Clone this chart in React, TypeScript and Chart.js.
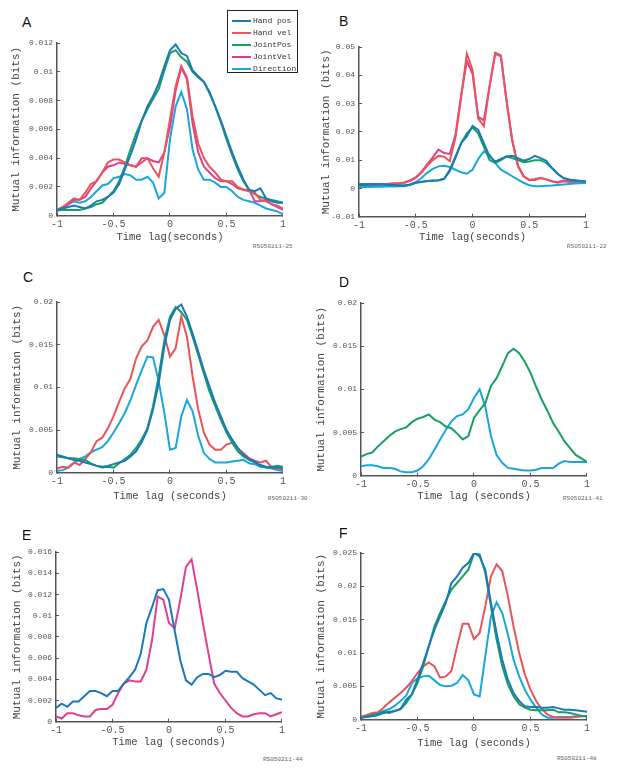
import React, { useEffect, useRef } from "react";
import { Chart, registerables } from "chart.js";

Chart.register(...registerables);

// ---------- DATA ----------
const timeLags = [
  -1, -0.95, -0.9, -0.85, -0.8, -0.75, -0.7, -0.65, -0.6, -0.55,
  -0.5, -0.45, -0.4, -0.35, -0.3, -0.25, -0.2, -0.15, -0.1, -0.05,
  0, 0.05, 0.1, 0.15, 0.2, 0.25, 0.3, 0.35, 0.4, 0.45,
  0.5, 0.55, 0.6, 0.65, 0.7, 0.75, 0.8, 0.85, 0.9, 0.95, 1,
];

const seriesNames = ["Hand pos", "Hand vel", "JointPos", "JointVel", "Direction"];
const seriesColors = ["#1b78bd", "#e9545c", "#17a05e", "#de3f8f", "#19a6dd"];

const xTickValues = [-1, -0.5, 0, 0.5, 1];

// Panel A
const aHandPos = [
  0.0004, 0.0005, 0.0006, 0.0007, 0.0006, 0.0005, 0.0007, 0.0010, 0.0011, 0.0013,
  0.0016, 0.0022, 0.0032, 0.0042, 0.0053, 0.0066, 0.0076, 0.0083, 0.0092, 0.0104,
  0.0115, 0.0119, 0.0113, 0.0111, 0.0101, 0.0097, 0.0093, 0.0086, 0.0076, 0.0066,
  0.0055, 0.0044, 0.0034, 0.0025, 0.0018, 0.0017, 0.0019, 0.0012, 0.0010, 0.0009, 0.0009,
];
const aHandVel = [
  0.0004, 0.0006, 0.0009, 0.0012, 0.0011, 0.0016, 0.0022, 0.0024, 0.0030, 0.0037,
  0.0039, 0.0039, 0.0037, 0.0035, 0.0034, 0.0037, 0.0040, 0.0033, 0.0027, 0.0044,
  0.0067, 0.0090, 0.0104, 0.0096, 0.0069, 0.0050, 0.0040, 0.0034, 0.0030, 0.0025,
  0.0024, 0.0024, 0.0020, 0.0018, 0.0017, 0.0016, 0.0011, 0.0010, 0.0008, 0.0007, 0.0005,
];
const aJointPos = [
  0.0004, 0.0004, 0.0004, 0.0004, 0.0004, 0.0005, 0.0006, 0.0008, 0.0009, 0.0013,
  0.0017, 0.0024, 0.0034, 0.0046, 0.0057, 0.0066, 0.0074, 0.0081, 0.0088, 0.0101,
  0.0113, 0.0115, 0.0110, 0.0107, 0.0100, 0.0096, 0.0093, 0.0085, 0.0076, 0.0065,
  0.0053, 0.0042, 0.0032, 0.0024, 0.0018, 0.0015, 0.0013, 0.0012, 0.0011, 0.0010, 0.0009,
];
const aJointVel = [
  0.0004, 0.0006, 0.0008, 0.0011, 0.0011, 0.0013, 0.0019, 0.0024, 0.0030, 0.0034,
  0.0035, 0.0037, 0.0036, 0.0035, 0.0034, 0.0040, 0.0040, 0.0038, 0.0037, 0.0044,
  0.0062, 0.0087, 0.0103, 0.0095, 0.0064, 0.0044, 0.0034, 0.0030, 0.0026, 0.0024,
  0.0024, 0.0022, 0.0019, 0.0018, 0.0018, 0.0010, 0.0010, 0.0011, 0.0008, 0.0006, 0.0004,
];
const aDirection = [
  0.0003, 0.0005, 0.0008, 0.0010, 0.0009, 0.0010, 0.0013, 0.0017, 0.0021, 0.0022,
  0.0026, 0.0027, 0.0029, 0.0028, 0.0025, 0.0025, 0.0027, 0.0023, 0.0012, 0.0016,
  0.0053, 0.0076, 0.0086, 0.0074, 0.0046, 0.0032, 0.0025, 0.0025, 0.0023, 0.0020,
  0.0020, 0.0017, 0.0013, 0.0011, 0.0010, 0.0009, 0.0007, 0.0005, 0.0004, 0.0003, 0.0001,
];

// Panel B
const bHandVel = [
  0.0010, 0.0011, 0.0012, 0.0013, 0.0015, 0.0016, 0.0017, 0.0018, 0.0020, 0.0027,
  0.0037, 0.0055, 0.0080, 0.0100, 0.0115, 0.0112, 0.0096, 0.0180, 0.0320, 0.0476,
  0.0420, 0.0248, 0.0220, 0.0360, 0.0480, 0.0470, 0.0310, 0.0170, 0.0080, 0.0043,
  0.0030, 0.0030, 0.0037, 0.0032, 0.0025, 0.0020, 0.0025, 0.0023, 0.0022, 0.0022, 0.0021,
];
const bJointVel = [
  0.0010, 0.0011, 0.0012, 0.0013, 0.0015, 0.0016, 0.0017, 0.0018, 0.0021, 0.0028,
  0.0039, 0.0058, 0.0085, 0.0110, 0.0137, 0.0125, 0.0122, 0.0190, 0.0330, 0.0450,
  0.0406, 0.0254, 0.0240, 0.0360, 0.0476, 0.0467, 0.0310, 0.0170, 0.0080, 0.0043,
  0.0030, 0.0033, 0.0037, 0.0032, 0.0025, 0.0022, 0.0028, 0.0025, 0.0023, 0.0022, 0.0022,
];
const bHandPos = [
  0.0012, 0.0013, 0.0014, 0.0014, 0.0014, 0.0013, 0.0012, 0.0010, 0.0010, 0.0013,
  0.0020, 0.0024, 0.0026, 0.0028, 0.0029, 0.0034, 0.0062, 0.0108, 0.0160, 0.0184,
  0.0221, 0.0207, 0.0160, 0.0113, 0.0095, 0.0104, 0.0113, 0.0115, 0.0107, 0.0098,
  0.0104, 0.0115, 0.0107, 0.0098, 0.0072, 0.0052, 0.0037, 0.0031, 0.0028, 0.0026, 0.0024,
];
const bJointPos = [
  0.0016, 0.0016, 0.0016, 0.0016, 0.0015, 0.0013, 0.0012, 0.0011, 0.0010, 0.0014,
  0.0020, 0.0023, 0.0025, 0.0027, 0.0028, 0.0034, 0.0066, 0.0113, 0.0160, 0.0195,
  0.0216, 0.0195, 0.0148, 0.0100, 0.0090, 0.0100, 0.0113, 0.0107, 0.0100, 0.0093,
  0.0095, 0.0100, 0.0100, 0.0090, 0.0072, 0.0052, 0.0037, 0.0032, 0.0029, 0.0026, 0.0024,
];
const bDirection = [
  0.0004, 0.0005, 0.0005, 0.0006, 0.0006, 0.0007, 0.0007, 0.0008, 0.0008, 0.0013,
  0.0022, 0.0037, 0.0055, 0.0069, 0.0078, 0.0080, 0.0076, 0.0066, 0.0057, 0.0052,
  0.0066, 0.0104, 0.0131, 0.0119, 0.0090, 0.0066, 0.0055, 0.0043, 0.0031, 0.0020,
  0.0011, 0.0008, 0.0008, 0.0009, 0.0010, 0.0012, 0.0014, 0.0016, 0.0017, 0.0018, 0.0020,
];

// Panel C
const cHandVel = [
  0.0005, 0.0007, 0.0006, 0.0012, 0.0009, 0.0016, 0.0024, 0.0037, 0.0041, 0.0052,
  0.0066, 0.0083, 0.0099, 0.0110, 0.0134, 0.0148, 0.0155, 0.0171, 0.0179, 0.0161,
  0.0136, 0.0146, 0.0183, 0.0159, 0.0113, 0.0074, 0.0047, 0.0033, 0.0027, 0.0027,
  0.0033, 0.0035, 0.0028, 0.0023, 0.0017, 0.0014, 0.0012, 0.0014, 0.0006, 0.0005, 0.0004,
];
const cHandPos = [
  0.0021, 0.0019, 0.0017, 0.0015, 0.0014, 0.0012, 0.0010, 0.0008, 0.0007, 0.0008,
  0.0010, 0.0012, 0.0014, 0.0019, 0.0025, 0.0036, 0.0050, 0.0074, 0.0105, 0.0148,
  0.0179, 0.0192, 0.0197, 0.0183, 0.0163, 0.0142, 0.0120, 0.0101, 0.0082, 0.0066,
  0.0050, 0.0039, 0.0029, 0.0021, 0.0016, 0.0013, 0.0009, 0.0007, 0.0006, 0.0006, 0.0005,
];
const cJointPos = [
  0.0019, 0.0018, 0.0017, 0.0017, 0.0016, 0.0015, 0.0011, 0.0008, 0.0006, 0.0007,
  0.0006, 0.0011, 0.0016, 0.0021, 0.0029, 0.0039, 0.0052, 0.0078, 0.0113, 0.0155,
  0.0183, 0.0194, 0.0188, 0.0179, 0.0159, 0.0138, 0.0116, 0.0095, 0.0078, 0.0062,
  0.0047, 0.0035, 0.0025, 0.0019, 0.0015, 0.0012, 0.0008, 0.0006, 0.0007, 0.0008, 0.0007,
];
const cDirection = [
  0.0002, 0.0003, 0.0006, 0.0011, 0.0016, 0.0019, 0.0024, 0.0027, 0.0030, 0.0037,
  0.0047, 0.0058, 0.0070, 0.0085, 0.0103, 0.0120, 0.0136, 0.0135, 0.0107, 0.0070,
  0.0027, 0.0029, 0.0066, 0.0085, 0.0072, 0.0043, 0.0023, 0.0016, 0.0012, 0.0012,
  0.0012, 0.0013, 0.0014, 0.0015, 0.0011, 0.0010, 0.0007, 0.0006, 0.0005, 0.0003, 0.0002,
];

// Panel D
const dJointPos = [
  0.0022, 0.0025, 0.0027, 0.0034, 0.0040, 0.0046, 0.0051, 0.0054, 0.0056, 0.0062,
  0.0066, 0.0068, 0.0071, 0.0065, 0.0062, 0.0057, 0.0055, 0.0049, 0.0042, 0.0046,
  0.0067, 0.0076, 0.0084, 0.0104, 0.0113, 0.0127, 0.0142, 0.0147, 0.0142, 0.0132,
  0.0119, 0.0103, 0.0088, 0.0075, 0.0061, 0.0051, 0.0040, 0.0032, 0.0024, 0.0020, 0.0016,
];
const dDirection = [
  0.0011, 0.0012, 0.0012, 0.0011, 0.0009, 0.0009, 0.0008, 0.0005, 0.0004, 0.0004,
  0.0006, 0.0011, 0.0019, 0.0030, 0.0042, 0.0053, 0.0063, 0.0069, 0.0071, 0.0077,
  0.0090, 0.0100, 0.0080, 0.0046, 0.0024, 0.0015, 0.0009, 0.0008, 0.0007, 0.0006,
  0.0006, 0.0007, 0.0009, 0.0009, 0.0009, 0.0014, 0.0017, 0.0016, 0.0016, 0.0016, 0.0016,
];

// Panel E
const eHandPos = [
  0.0013, 0.0017, 0.0014, 0.0019, 0.0019, 0.0024, 0.0029, 0.0029, 0.0027, 0.0024,
  0.0029, 0.0029, 0.0036, 0.0042, 0.0049, 0.0064, 0.0093, 0.0108, 0.0124, 0.0125,
  0.0115, 0.0086, 0.0058, 0.0039, 0.0035, 0.0042, 0.0045, 0.0045, 0.0042, 0.0044,
  0.0048, 0.0047, 0.0047, 0.0041, 0.0038, 0.0035, 0.0030, 0.0025, 0.0027, 0.0022, 0.0021,
];
const eJointVel = [
  0.0005, 0.0003, 0.0008, 0.0008, 0.0006, 0.0005, 0.0005, 0.0011, 0.0012, 0.0012,
  0.0016, 0.0027, 0.0036, 0.0039, 0.0038, 0.0038, 0.0049, 0.0077, 0.0118, 0.0115,
  0.0093, 0.0088, 0.0115, 0.0146, 0.0153, 0.0124, 0.0093, 0.0064, 0.0036, 0.0027,
  0.0020, 0.0013, 0.0008, 0.0005, 0.0005, 0.0007, 0.0008, 0.0008, 0.0005, 0.0007, 0.0009,
];

// Panel F
const fHandVel = [
  0.0004, 0.0007, 0.0010, 0.0011, 0.0018, 0.0026, 0.0033, 0.0040, 0.0048, 0.0058,
  0.0070, 0.0080, 0.0086, 0.0080, 0.0063, 0.0065, 0.0073, 0.0110, 0.0144, 0.0144,
  0.0121, 0.0130, 0.0170, 0.0215, 0.0233, 0.0223, 0.0185, 0.0140, 0.0100, 0.0068,
  0.0045, 0.0028, 0.0016, 0.0008, 0.0004, 0.0003, 0.0003, 0.0003, 0.0004, 0.0005, 0.0005,
];
const fHandPos = [
  0.0003, 0.0004, 0.0005, 0.0007, 0.0010, 0.0012, 0.0013, 0.0016, 0.0030, 0.0038,
  0.0060, 0.0085, 0.0110, 0.0135, 0.0155, 0.0175, 0.0205, 0.0215, 0.0228, 0.0235,
  0.0250, 0.0245, 0.0225, 0.0175, 0.0130, 0.0090, 0.0060, 0.0040, 0.0028, 0.0020,
  0.0019, 0.0019, 0.0018, 0.0018, 0.0019, 0.0017, 0.0015, 0.0015, 0.0014, 0.0013, 0.0012,
];
const fJointPos = [
  0.0003, 0.0005, 0.0007, 0.0009, 0.0012, 0.0010, 0.0013, 0.0016, 0.0025, 0.0038,
  0.0055, 0.0080, 0.0110, 0.0140, 0.0160, 0.0178, 0.0195, 0.0205, 0.0215, 0.0225,
  0.0249, 0.0248, 0.0220, 0.0170, 0.0120, 0.0080, 0.0053, 0.0035, 0.0023, 0.0018,
  0.0015, 0.0014, 0.0014, 0.0014, 0.0015, 0.0011, 0.0011, 0.0010, 0.0008, 0.0006, 0.0005,
];
const fDirection = [
  0.0005, 0.0006, 0.0008, 0.0010, 0.0013, 0.0016, 0.0021, 0.0028, 0.0036, 0.0055,
  0.0062, 0.0065, 0.0066, 0.0059, 0.0052, 0.0050, 0.0051, 0.0055, 0.0067, 0.0059,
  0.0038, 0.0035, 0.0095, 0.0155, 0.0176, 0.0160, 0.0128, 0.0090, 0.0065, 0.0045,
  0.0030, 0.0018, 0.0008, 0.0003, 0.0003, 0.0004, 0.0004, 0.0004, 0.0005, 0.0005, 0.0005,
];

// ---------- LAYOUT ----------
const MONO = "'Liberation Mono', 'DejaVu Sans Mono', monospace";

type Series = { idx: number; data: number[] };
type PanelSpec = {
  letter: string;
  code: string;
  series: Series[];
  yMin: number;
  yMax: number;
  yStep: number;
  xTitle: string;
  plot: { l: number; t: number; r: number; b: number };
  yTitleX: number;
  xTitleDy: number;
  letterPos: [number, number];
  codePos: [number, number];
};

const panels: PanelSpec[] = [
  {
    letter: "A", code: "RS050211-25",
    series: [
      { idx: 0, data: aHandPos }, { idx: 1, data: aHandVel }, { idx: 2, data: aJointPos },
      { idx: 3, data: aJointVel }, { idx: 4, data: aDirection },
    ],
    yMin: 0, yMax: 0.012, yStep: 0.002, xTitle: "Time lag(seconds)",
    plot: { l: 57, t: 43, r: 284, b: 216 }, yTitleX: 15.5, xTitleDy: 22,
    letterPos: [22, 15], codePos: [253, 244],
  },
  {
    letter: "B", code: "RS050211-22",
    series: [
      { idx: 0, data: bHandPos }, { idx: 2, data: bJointPos }, { idx: 4, data: bDirection },
      { idx: 1, data: bHandVel }, { idx: 3, data: bJointVel },
    ],
    yMin: -0.01, yMax: 0.05, yStep: 0.01, xTitle: "Time lag(seconds)",
    plot: { l: 359, t: 47, r: 587, b: 217 }, yTitleX: 325.5, xTitleDy: 21,
    letterPos: [339, 14], codePos: [567, 244],
  },
  {
    letter: "C", code: "RS050211-30",
    series: [
      { idx: 0, data: cHandPos }, { idx: 2, data: cJointPos },
      { idx: 1, data: cHandVel }, { idx: 4, data: cDirection },
    ],
    yMin: 0, yMax: 0.02, yStep: 0.005, xTitle: "Time lag (seconds)",
    plot: { l: 57, t: 302, r: 284, b: 473 }, yTitleX: 16.5, xTitleDy: 24,
    letterPos: [23, 270], codePos: [268, 496],
  },
  {
    letter: "D", code: "RS050211-41",
    series: [{ idx: 2, data: dJointPos }, { idx: 4, data: dDirection }],
    yMin: 0, yMax: 0.02, yStep: 0.005, xTitle: "Time lag (seconds)",
    plot: { l: 361, t: 303, r: 588, b: 476 }, yTitleX: 321, xTitleDy: 21,
    letterPos: [339, 275], codePos: [563, 496],
  },
  {
    letter: "E", code: "RS050211-44",
    series: [{ idx: 0, data: eHandPos }, { idx: 3, data: eJointVel }],
    yMin: 0, yMax: 0.016, yStep: 0.002, xTitle: "Time lag (seconds)",
    plot: { l: 56, t: 552, r: 283, b: 722 }, yTitleX: 17, xTitleDy: 21,
    letterPos: [22, 528], codePos: [263, 757],
  },
  {
    letter: "F", code: "RS050211-48",
    series: [
      { idx: 0, data: fHandPos }, { idx: 2, data: fJointPos },
      { idx: 1, data: fHandVel }, { idx: 4, data: fDirection },
    ],
    yMin: 0, yMax: 0.025, yStep: 0.005, xTitle: "Time lag (seconds)",
    plot: { l: 361, t: 553, r: 588, b: 720 }, yTitleX: 321, xTitleDy: 24,
    letterPos: [339, 526], codePos: [557, 756],
  },
];

const fmt = (v: number | string) => {
  const n = Number(v);
  const s = String(parseFloat(n.toFixed(4)));
  return s === "-0" ? "0" : s;
};

function Panel({ spec }: { spec: PanelSpec }) {
  const ref = useRef<HTMLCanvasElement | null>(null);
  const PAD_T = 12, PAD_R = 8, PAD_B = 2;
  const yTitleLH = 11 * 1.2;
  const xTitleLH = 10.5 * 1.2;
  const left = Math.round(spec.yTitleX - yTitleLH / 2);
  const top = spec.plot.t - PAD_T;
  const xAxisH = spec.xTitleDy + xTitleLH / 2;
  const width = spec.plot.r + PAD_R - left;
  const height = Math.round(spec.plot.b + xAxisH + PAD_B - top);
  const yAxisW = spec.plot.l - left;

  useEffect(() => {
    if (!ref.current) return;
    const chart = new Chart(ref.current, {
      type: "line",
      data: {
        datasets: spec.series.map((s) => ({
          label: seriesNames[s.idx],
          data: timeLags.map((x, i) => ({ x, y: s.data[i] })),
          borderColor: seriesColors[s.idx],
          backgroundColor: seriesColors[s.idx],
          borderWidth: 2,
          pointRadius: 0,
          tension: 0,
          fill: false,
        })),
      },
      options: {
        responsive: false,
        animation: false,
        events: [],
        layout: { padding: { left: 0, top: PAD_T, right: PAD_R, bottom: PAD_B } },
        plugins: { legend: { display: false }, tooltip: { enabled: false } },
        scales: {
          x: {
            type: "linear",
            min: -1,
            max: 1,
            afterBuildTicks: (scale: any) => {
              scale.ticks = xTickValues.map((v) => ({ value: v }));
            },
            afterFit: (scale: any) => {
              scale.height = xAxisH;
            },
            ticks: {
              callback: (v: any) => fmt(v),
              color: "#555",
              font: { family: MONO, size: 10 },
              padding: 6,
              maxRotation: 0,
            },
            grid: {
              display: true,
              drawOnChartArea: false,
              drawTicks: true,
              tickLength: -3,
              color: "#555",
              lineWidth: 1,
            },
            border: { display: true, color: "#555", width: 1.5 },
            title: {
              display: true,
              text: spec.xTitle,
              color: "#444",
              font: { family: MONO, size: 10.5 },
              padding: 0,
            },
          },
          y: {
            type: "linear",
            min: spec.yMin,
            max: spec.yMax,
            afterFit: (scale: any) => {
              scale.width = yAxisW;
            },
            ticks: {
              stepSize: spec.yStep,
              callback: (v: any) => fmt(v),
              color: "#555",
              font: { family: MONO, size: 8 },
              padding: 7,
            },
            grid: {
              display: true,
              drawOnChartArea: false,
              drawTicks: true,
              tickLength: -3,
              color: "#555",
              lineWidth: 1,
            },
            border: { display: true, color: "#555", width: 1.5 },
            title: {
              display: true,
              text: "Mutual information (bits)",
              color: "#444",
              font: { family: MONO, size: 11 },
              padding: 0,
            },
          },
        },
      },
    } as any);
    return () => chart.destroy();
  }, []);

  return (
    <>
      <canvas
        ref={ref}
        width={width}
        height={height}
        style={{ position: "absolute", left, top, width, height }}
      />
      <div
        style={{
          position: "absolute",
          left: spec.letterPos[0],
          top: spec.letterPos[1],
          fontFamily: "'Liberation Sans', Arial, sans-serif",
          fontSize: 14,
          lineHeight: 1,
          color: "#111",
        }}
      >
        {spec.letter}
      </div>
      <div
        style={{
          position: "absolute",
          left: spec.codePos[0],
          top: spec.codePos[1],
          fontFamily: MONO,
          fontSize: 6,
          lineHeight: 1,
          color: "#666",
          whiteSpace: "nowrap",
        }}
      >
        {spec.code}
      </div>
    </>
  );
}

function Legend() {
  return (
    <div
      style={{
        position: "absolute",
        left: 227,
        top: 10,
        width: 71,
        height: 63,
        boxSizing: "border-box",
        border: "1px solid #222",
        background: "#fff",
      }}
    >
      {seriesNames.map((name, i) => (
        <div key={name}>
          <div
            style={{
              position: "absolute",
              left: 4,
              top: 9 + i * 12,
              width: 19,
              height: 2,
              background: seriesColors[i],
            }}
          />
          <div
            style={{
              position: "absolute",
              left: 25,
              top: 4 + i * 12,
              fontFamily: MONO,
              fontSize: 8,
              lineHeight: "12px",
              color: "#333",
              whiteSpace: "nowrap",
            }}
          >
            {name}
          </div>
        </div>
      ))}
    </div>
  );
}

export default function App() {
  return (
    <div
      style={{
        position: "absolute",
        left: 0,
        top: 0,
        width: 621,
        height: 774,
        background: "#fff",
        overflow: "hidden",
      }}
    >
      {panels.map((p) => (
        <Panel key={p.letter} spec={p} />
      ))}
      <Legend />
    </div>
  );
}
